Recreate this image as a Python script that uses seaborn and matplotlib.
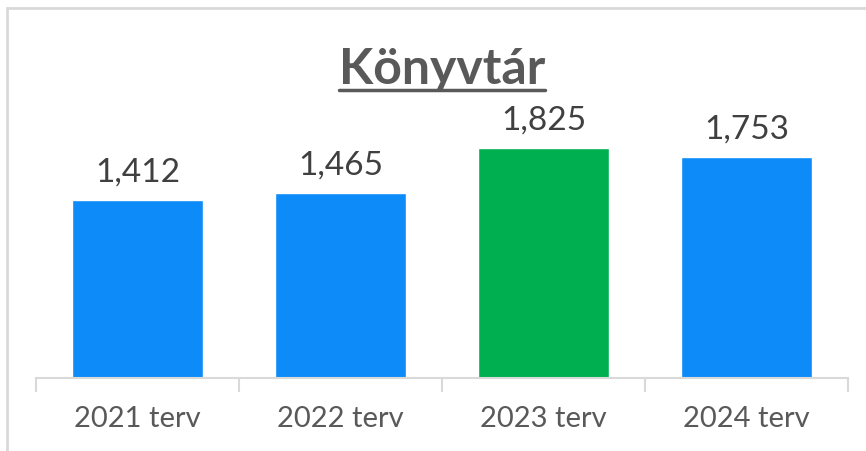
import matplotlib
matplotlib.use("Agg")
import matplotlib.pyplot as plt
import seaborn as sns
import pandas as pd
from matplotlib.lines import Line2D
from matplotlib.patches import Rectangle

categories = ["2021 terv", "2022 terv", "2023 terv", "2024 terv"]
values = [1412, 1465, 1825, 1753]
bar_colors = ["#0D8BF8", "#0D8BF8", "#00B050", "#0D8BF8"]
title = "Könyvtár"

sns.set_style("white")
plt.rcParams['font.family'] = ['Lato', 'DejaVu Sans']

W, H, DPI = 866, 451, 100
fig = plt.figure(figsize=(W / DPI, H / DPI), dpi=DPI)
fig.patch.set_facecolor("white")

left, right = 36 / W, 848 / W
bottom = (H - 378) / H
top = (H - 63) / H
ax = fig.add_axes([left, bottom, right - left, top - bottom])

df = pd.DataFrame({"cat": categories, "val": values})
sns.barplot(data=df, x="cat", y="val", hue="cat", palette=bar_colors,
            width=0.65, legend=False, ax=ax, saturation=1)

ax.set_xlim(-0.5, len(categories) - 0.5)
ax.set_ylim(0, 2500)
ax.set_xlabel("")
ax.set_ylabel("")
ax.set_yticks([])
for s in ["top", "right", "left"]:
    ax.spines[s].set_visible(False)
ax.spines["bottom"].set_color("#D9D9D9")
ax.spines["bottom"].set_linewidth(1.5)

ax.set_xticks(range(len(categories)))
ax.set_xticklabels(categories, fontsize=21, color="#595959")
ax.tick_params(axis="x", which="major", length=0, pad=20, bottom=True)
ax.set_xticks([i - 0.5 for i in range(len(categories) + 1)], minor=True)
ax.tick_params(axis="x", which="minor", length=10, width=1.5,
               color="#D9D9D9", bottom=True, direction="out")

for i, v in enumerate(values):
    ax.annotate(f"{v:,}", (i, v), xytext=(0, 9), textcoords="offset points",
                ha="center", va="bottom", fontsize=24, color="#404040")

t = fig.text(442 / W, (H - 84) / H, title, ha="center", va="baseline",
             fontsize=36, fontweight="bold", color="#595959")
fig.canvas.draw()
bb = t.get_window_extent(renderer=fig.canvas.get_renderer())
uy = (H - 90) / H
fig.add_artist(Line2D([bb.x0 / W, bb.x1 / W], [uy, uy], color="#595959",
                      linewidth=2.5, transform=fig.transFigure))

fig.add_artist(Rectangle((7 / W, -0.2), 1.2, (H - 8) / H + 0.2,
                         fill=False, edgecolor="#D9D9D9", linewidth=2,
                         transform=fig.transFigure))

fig.savefig("out.png", dpi=DPI)
